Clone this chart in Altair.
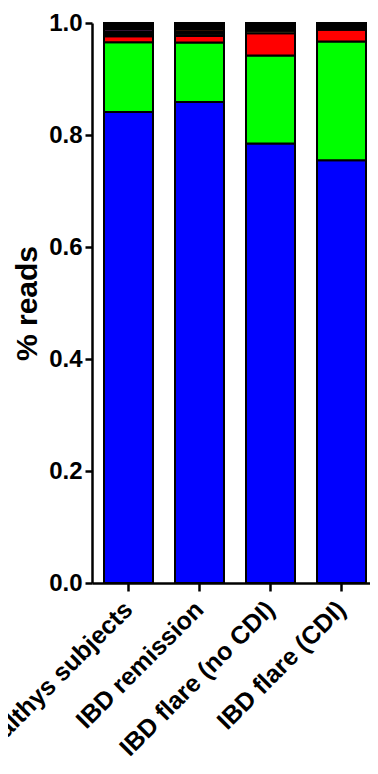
import altair as alt
import pandas as pd

groups = ["Healthys subjects", "IBD remission", "IBD flare (no CDI)", "IBD flare (CDI)"]
series = ["Blue", "Green", "Red", "Olive", "Other A", "Pink", "Orange", "Other B"]
colors = ["#0000FF", "#00FF00", "#FF0000", "#85853D", "#000000", "#CC55CC", "#E06010", "#000000"]

blue   = [0.841, 0.859, 0.785, 0.755]
green  = [0.1248, 0.106, 0.157, 0.212]
red    = [0.0106, 0.012, 0.0396, 0.021]
olive  = [0.0, 0.004, 0.0044, 0.0]
otherA = [0.0088, 0.004, 0.0, 0.0]
pink   = [0.0043, 0.0, 0.0, 0.0]
orange = [0.0, 0.004, 0.0, 0.0]
otherB = [0.0105, 0.011, 0.014, 0.012]

values = [blue, green, red, olive, otherA, pink, orange, otherB]

rows = []
for si, (s, vals) in enumerate(zip(series, values)):
    for g, v in zip(groups, vals):
        if v > 0:
            rows.append({"group": g, "series": s, "value": v, "order": si})
df = pd.DataFrame(rows)

font = "Liberation Sans"

chart = alt.Chart(df).mark_bar(stroke="black", strokeWidth=2).encode(
    x=alt.X("group:N", sort=groups,
            scale=alt.Scale(paddingInner=0.31, paddingOuter=0.1127, align=0.75),
            axis=alt.Axis(title=None, labelAngle=-45, labelAlign="right", labelBaseline="middle",
                          labelFont=font, labelFontSize=25, labelFontWeight="bold",
                          labelColor="black", labelPadding=14, labelLimit=0,
                          domainColor="black", domainWidth=2.5,
                          tickColor="black", tickWidth=2.5, tickSize=8)),
    y=alt.Y("value:Q", stack="zero",
            scale=alt.Scale(domain=[0, 1], nice=False),
            axis=alt.Axis(title="% reads", values=[0, 0.2, 0.4, 0.6, 0.8, 1.0], format=".1f",
                          labelFont=font, labelFontSize=24, labelFontWeight="bold",
                          labelColor="black", labelPadding=3,
                          titleFont=font, titleFontSize=30, titleFontWeight="bold",
                          titleColor="black", titlePadding=6,
                          domainColor="black", domainWidth=2.5,
                          tickColor="black", tickWidth=2.5, tickSize=7, grid=False)),
    color=alt.Color("series:N", sort=series,
                    scale=alt.Scale(domain=series, range=colors), legend=None),
    order=alt.Order("order:Q", sort="ascending"),
).properties(
    width=278, height=560,
    autosize=alt.AutoSizeParams(type="none"),
    padding={"left": 84, "right": 0, "top": 15, "bottom": 183},
).configure_view(stroke=None)

chart.save("out.html", embed_options={"renderer": "svg", "actions": False})
